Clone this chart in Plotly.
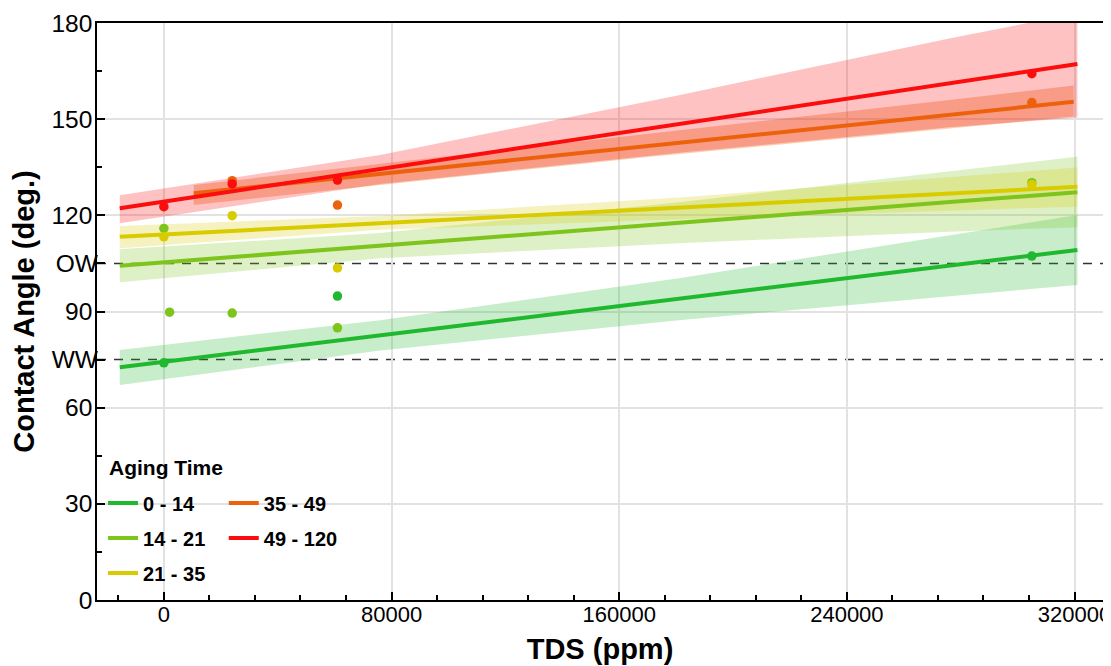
import plotly.graph_objects as go

# ---------------- data ----------------
series_names = ["0 - 14", "14 - 21", "21 - 35", "35 - 49", "49 - 120"]
series_colors = ["#1fb82e", "#7dc41c", "#d8cc00", "#ec620c", "#fb0d0d"]
band_colors = ["rgba(31,184,46,0.25)", "rgba(125,196,28,0.25)", "rgba(216,204,0,0.25)",
               "rgba(236,98,12,0.32)", "rgba(251,13,13,0.25)"]
legend_title = "Aging Time"

# measured points (TDS ppm, contact angle deg)
pts_x_0_14 = [0, 61000, 305000]
pts_y_0_14 = [74.0, 94.8, 107.3]
pts_x_14_21 = [0, 2000, 24000, 61000, 305000]
pts_y_14_21 = [115.9, 89.8, 89.5, 84.9, 130.2]
pts_x_21_35 = [0, 24000, 61000, 305000]
pts_y_21_35 = [113.3, 119.9, 103.6, 129.6]
pts_x_35_49 = [24000, 61000, 305000]
pts_y_35_49 = [130.8, 123.2, 155.2]
pts_x_49_120 = [0, 24000, 61000, 305000]
pts_y_49_120 = [122.7, 129.8, 131.0, 164.2]

# fitted lines (end points)
fit_x_0_14 = [-15500, 321000]
fit_y_0_14 = [72.6, 109.2]
fit_x_14_21 = [-15500, 321000]
fit_y_14_21 = [104.3, 127.2]
fit_x_21_35 = [-15500, 321000]
fit_y_21_35 = [113.3, 128.9]
fit_x_35_49 = [10500, 319700]
fit_y_35_49 = [126.9, 155.4]
fit_x_49_120 = [-15500, 321000]
fit_y_49_120 = [122.2, 167.2]

# confidence bands
band_x_0_14 = [-15500, 76000, 181000, 276000, 321000]
band_hi_0_14 = [78.0, 87.3, 100.4, 113.9, 120.1]
band_lo_0_14 = [67.1, 77.8, 87.3, 94.8, 98.3]
band_x_14_21 = [-15500, 76000, 181000, 276000, 321000]
band_hi_14_21 = [109.4, 114.5, 124.1, 133.6, 138.3]
band_lo_14_21 = [99.1, 106.6, 111.3, 114.9, 116.3]
band_x_21_35 = [-15500, 76000, 181000, 276000, 321000]
band_hi_21_35 = [116.7, 119.8, 125.6, 131.9, 134.9]
band_lo_21_35 = [109.7, 115.5, 118.8, 121.4, 122.7]
band_x_35_49 = [10500, 76000, 171000, 276000, 319700]
band_hi_35_49 = [129.5, 136.0, 145.6, 156.0, 160.5]
band_lo_35_49 = [123.2, 129.5, 138.3, 147.1, 150.8]
band_x_49_120 = [-15500, 76000, 181000, 276000, 321000]
band_hi_49_120 = [126.3, 138.8, 157.5, 175.2, 183.0]
band_lo_49_120 = [117.5, 129.8, 139.5, 147.5, 150.5]

# axes
x_tick_vals = [0, 80000, 160000, 240000, 320000]
x_tick_labels = ["0", "80000", "160000", "240000", "320000"]
y_tick_vals = [0, 30, 60, 90, 120, 150, 180]
y_tick_labels = ["0", "30", "60", "90", "120", "150", "180"]
ref_vals = [75, 105]
ref_labels = ["WW", "OW"]
x_range = [-23500, 330000]
y_range = [0, 180]

pts_x = [pts_x_0_14, pts_x_14_21, pts_x_21_35, pts_x_35_49, pts_x_49_120]
pts_y = [pts_y_0_14, pts_y_14_21, pts_y_21_35, pts_y_35_49, pts_y_49_120]
fit_x = [fit_x_0_14, fit_x_14_21, fit_x_21_35, fit_x_35_49, fit_x_49_120]
fit_y = [fit_y_0_14, fit_y_14_21, fit_y_21_35, fit_y_35_49, fit_y_49_120]
band_x = [band_x_0_14, band_x_14_21, band_x_21_35, band_x_35_49, band_x_49_120]
band_hi = [band_hi_0_14, band_hi_14_21, band_hi_21_35, band_hi_35_49, band_hi_49_120]
band_lo = [band_lo_0_14, band_lo_14_21, band_lo_21_35, band_lo_35_49, band_lo_49_120]

FONT = "Liberation Sans, Arial, Helvetica, sans-serif"

fig = go.Figure()

# bands
for i in range(5):
    fig.add_trace(go.Scatter(
        x=band_x[i] + band_x[i][::-1],
        y=band_hi[i] + band_lo[i][::-1],
        fill="toself", fillcolor=band_colors[i],
        line=dict(width=0), mode="lines",
        showlegend=False, hoverinfo="skip"))

# fitted lines (legend entries)
for i in range(5):
    fig.add_trace(go.Scatter(
        x=fit_x[i], y=fit_y[i], mode="lines",
        line=dict(color=series_colors[i], width=4),
        name=series_names[i],
        legend="legend" if i < 3 else "legend2",
        legendgroup=series_names[i]))

# points
for i in range(5):
    fig.add_trace(go.Scatter(
        x=pts_x[i], y=pts_y[i], mode="markers",
        marker=dict(color=series_colors[i], size=9.5),
        showlegend=False))

# invisible trace on the overlay axis carrying WW / OW labels
fig.add_trace(go.Scatter(x=[x_tick_vals[0]], y=[ref_vals[0]], yaxis="y2",
                         mode="markers", marker=dict(opacity=0),
                         showlegend=False, hoverinfo="skip"))

# dashed reference lines
for v in ref_vals:
    fig.add_shape(type="line", xref="paper", x0=0, x1=1, yref="y", y0=v, y1=v,
                  line=dict(color="#333333", width=1.5, dash="9px,8px"), layer="below")

# legend title as text
fig.add_annotation(text=legend_title, xref="paper", yref="paper",
                   x=0.010, y=0.229, xanchor="left", yanchor="middle", showarrow=False,
                   font=dict(family=FONT, size=21, weight="bold", color="black"))

tickfont = dict(family=FONT, size=24.5, color="black")
axis_common = dict(
    ticks="inside", ticklen=8, tickwidth=1.5, tickcolor="black",
    showline=True, linecolor="black", linewidth=1.5, mirror=True,
    zeroline=False, automargin=False,
)

# the page places the figure 8 px from the top-left corner of the window
fig.update_layout(
    width=1111, height=658,
    margin=dict(l=89, r=16, t=15, b=66),
    paper_bgcolor="white", plot_bgcolor="white",
    font=dict(family=FONT, color="black"),
    xaxis=dict(
        range=x_range, tickmode="array", tickvals=x_tick_vals, ticktext=x_tick_labels,
        showgrid=True, gridcolor="#e2e2e2", gridwidth=1.5,
        minor=dict(ticks="inside", ticklen=5, tickwidth=1.5, tickcolor="black",
                   tick0=0, dtick=16000, showgrid=False),
        ticklabelstandoff=-6,
        tickfont=dict(family=FONT, size=22, color="black"),
        title=dict(text="TDS (ppm)", font=dict(family=FONT, size=29, weight="bold"),
                   standoff=13),
        **axis_common),
    yaxis=dict(
        range=y_range, tickmode="array", tickvals=y_tick_vals, ticktext=y_tick_labels,
        showgrid=True, gridcolor="#e2e2e2", gridwidth=1.5,
        minor=dict(ticks="inside", ticklen=5, tickwidth=1.5, tickcolor="black",
                   tick0=0, dtick=15, showgrid=False),
        ticklabelstandoff=-2, tickfont=tickfont,
        title=dict(text="Contact Angle (deg.)", font=dict(family=FONT, size=29, weight="bold"),
                   standoff=8),
        **axis_common),
    yaxis2=dict(
        overlaying="y", side="left", anchor="x", range=y_range,
        tickmode="array", tickvals=ref_vals, ticktext=ref_labels,
        ticks="inside", ticklen=8, tickwidth=1.5, tickcolor="black",
        ticklabelstandoff=-2,
        showgrid=False, showline=False, zeroline=False, tickfont=tickfont,
        automargin=False),
    legend=dict(
        x=0.006, y=0.202, xanchor="left", yanchor="top",
        bgcolor="rgba(0,0,0,0)", borderwidth=0,
        font=dict(family=FONT, size=20, weight="bold"),
        tracegroupgap=6, itemwidth=30),
    legend2=dict(
        x=0.126, y=0.202, xanchor="left", yanchor="top",
        bgcolor="rgba(0,0,0,0)", borderwidth=0,
        font=dict(family=FONT, size=20, weight="bold"),
        tracegroupgap=6, itemwidth=30),
    showlegend=True,
)

fig.write_html("out.html")
